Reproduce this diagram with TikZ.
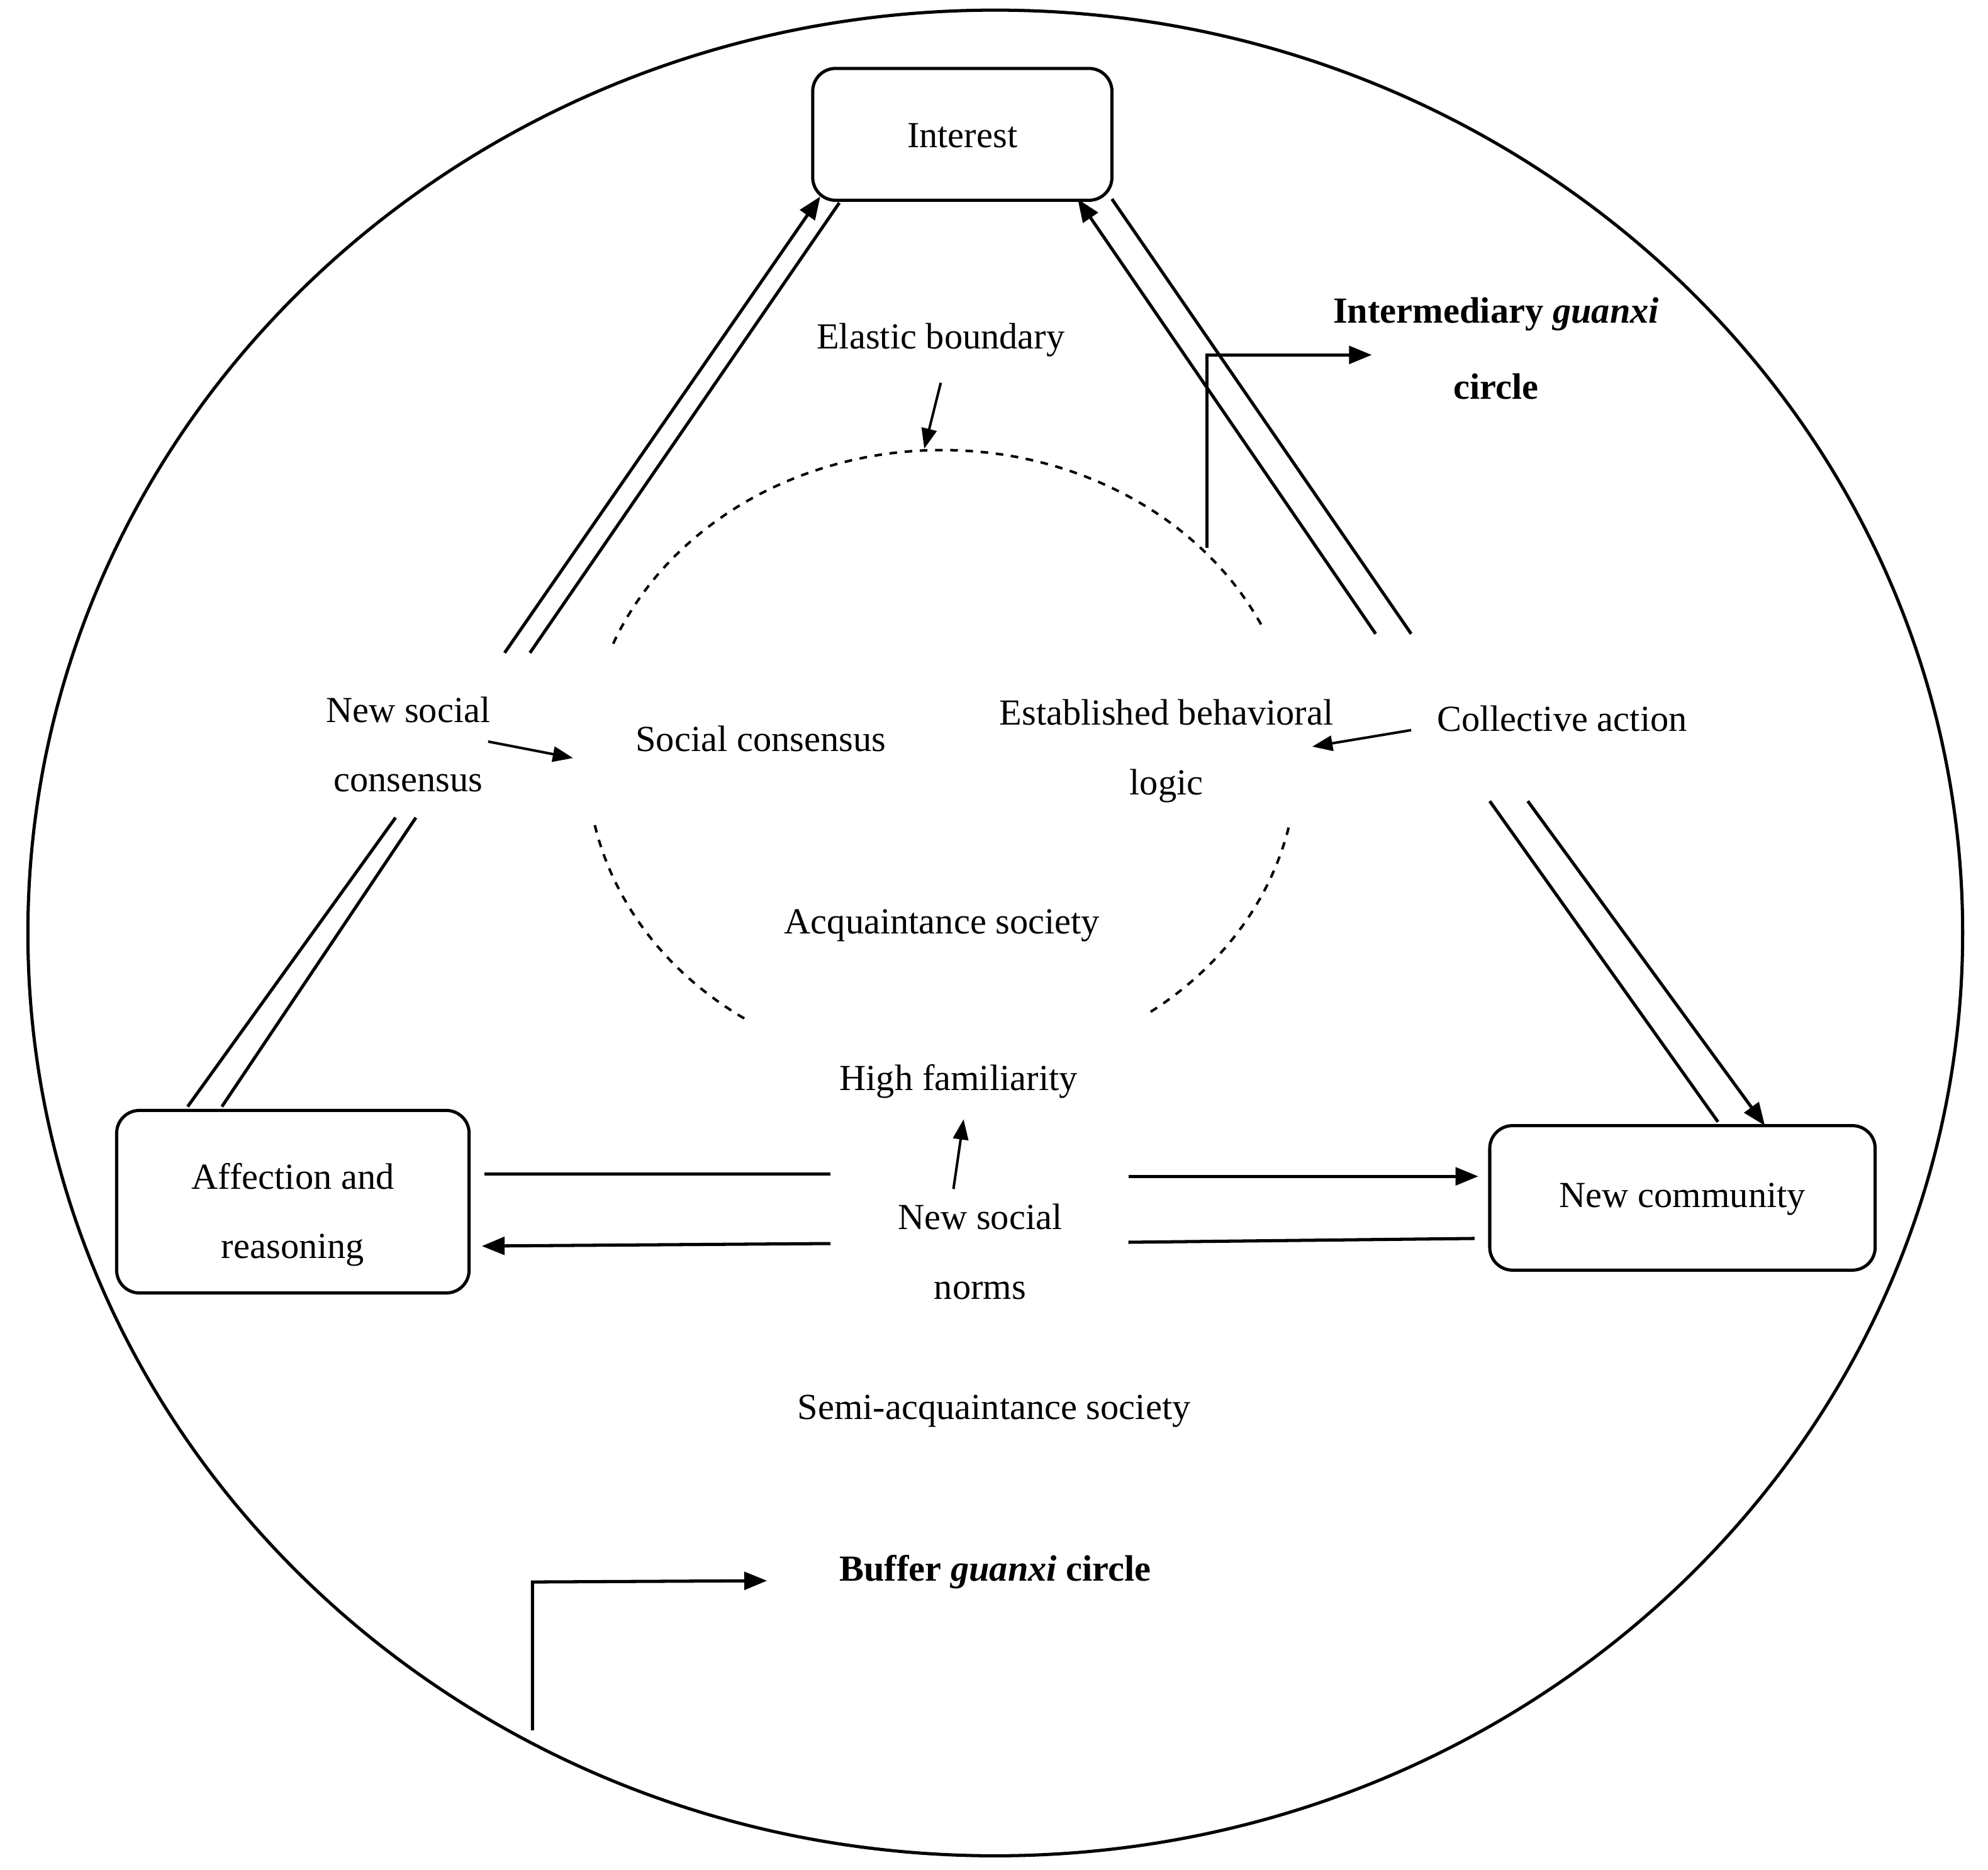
\documentclass[tikz,border=0pt]{standalone}
\usepackage{fontspec}
\setmainfont{Liberation Serif}
\usetikzlibrary{arrows.meta}
\begin{document}
\begin{tikzpicture}[x=0.5pt,y=-0.5pt,line width=1.25pt,
  box/.style={draw,rounded corners=9pt,line width=1.25pt},
  txt/.style={font=\fontsize{14.5}{17}\selectfont,inner sep=0pt},
  arr/.style={-{Triangle[length=9pt,width=7pt]}},
  sarr/.style={-{Triangle[length=8pt,width=6pt]},line width=1pt}]
\useasboundingbox (0,0) rectangle (1568,1475);
\draw (785,736) ellipse [x radius=763, y radius=728];
\node[box,minimum width=118pt,minimum height=52pt] (int) at (759,106) {};
\node[txt] at (759,107) {Interest};
\node[box,minimum width=139pt,minimum height=72pt] (aff) at (231,948) {};
\node[txt] at (231,928) {Affection and};
\node[txt] at (231,986) {reasoning};
\node[box,minimum width=152pt,minimum height=57pt] (nc) at (1327,945) {};
\node[txt] at (1327,946) {New community};
% dashed boundary
\draw[dashed,line width=1pt] plot[domain=26:159,samples=60] ({743+280*cos(\x)},{600-245*sin(\x)});
\draw[dashed,line width=1pt] plot[domain=192:237,samples=30] ({743+280*cos(\x)},{600-245*sin(\x)});
\draw[dashed,line width=1pt] plot[domain=306:348,samples=30] ({743+280*cos(\x)},{600-245*sin(\x)});
% left edge
\coordinate (l1a) at (148,873); \coordinate (l1b) at (312,645);
\coordinate (l2a) at (175,873); \coordinate (l2b) at (328,645);
\draw (l1a)--(l1b); \draw (l2a)--(l2b);
\coordinate (l3a) at (398,515); \coordinate (l3b) at (647,155);
\coordinate (l4a) at (418,515); \coordinate (l4b) at (662,160);
\draw[arr] (l3a)--(l3b); \draw (l4a)--(l4b);
% right edge
\coordinate (r1a) at (1085,500); \coordinate (r1b) at (850,157);
\coordinate (r2a) at (1113,500); \coordinate (r2b) at (877,157);
\draw[arr] (r1a)--(r1b); \draw (r2a)--(r2b);
\coordinate (r3a) at (1175,632); \coordinate (r3b) at (1355,885);
\coordinate (r4a) at (1205,632); \coordinate (r4b) at (1392,888);
\draw (r3a)--(r3b); \draw[arr] (r4a)--(r4b);
% bottom
\coordinate (b1a) at (382,926); \coordinate (b1b) at (655,926);
\coordinate (b2a) at (655,981); \coordinate (b2b) at (380,983);
\coordinate (b3a) at (890,928); \coordinate (b3b) at (1166,928);
\coordinate (b4a) at (1163,977); \coordinate (b4b) at (890,980);
\draw (b1a)--(b1b); \draw[arr] (b2a)--(b2b); \draw[arr] (b3a)--(b3b); \draw (b4a)--(b4b);
% texts
\node[txt] at (742,268) {Elastic boundary};
\node[txt,font=\fontsize{14.5}{17}\selectfont\bfseries] at (1180,248) {Intermediary \textit{guanxi}};
\node[txt,font=\fontsize{14.5}{17}\selectfont\bfseries] at (1180,305) {circle};
\node[txt] at (322,560) {New social};
\node[txt] at (322,618) {consensus};
\node[txt] at (600,583) {Social consensus};
\node[txt] at (920,562) {Established behavioral};
\node[txt] at (920,620) {logic};
\node[txt] at (1232,567) {Collective action};
\node[txt] at (743,730) {Acquaintance society};
\node[txt] at (756,853) {High familiarity};
\node[txt] at (773,960) {New social};
\node[txt] at (773,1018) {norms};
\node[txt] at (784,1113) {Semi-acquaintance society};
\node[txt,font=\fontsize{14.5}{17}\selectfont\bfseries] at (785,1240) {Buffer \textit{guanxi} circle};
% small arrows
\coordinate (e1) at (742,302); \coordinate (e2) at (729,354);
\draw[sarr] (e1)--(e2);
\coordinate (n1) at (385,585); \coordinate (n2) at (452,598);
\draw[sarr] (n1)--(n2);
\coordinate (c1) at (1113,576); \coordinate (c2) at (1035,589);
\draw[sarr] (c1)--(c2);
\coordinate (s1) at (752,938); \coordinate (s2) at (760,883);
\draw[sarr] (s1)--(s2);
\coordinate (i1) at (952,432); \coordinate (i2) at (952,280); \coordinate (i3) at (1082,280);
\draw[arr] (i1)--(i2)--(i3);
\coordinate (u1) at (420,1365); \coordinate (u2) at (420,1248); \coordinate (u3) at (605,1247);
\draw[arr] (u1)--(u2)--(u3);
\end{tikzpicture}
\end{document}
